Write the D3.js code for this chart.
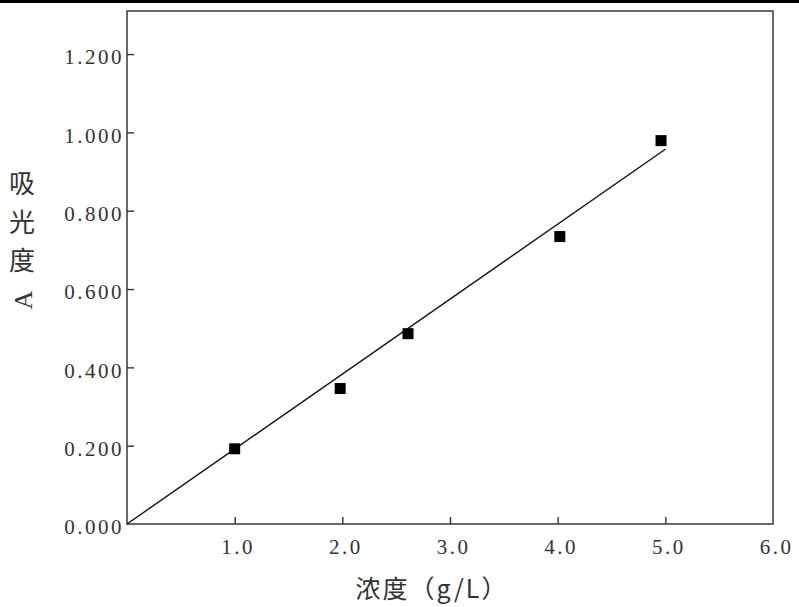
<!DOCTYPE html>
<meta charset="utf-8">
<script src="https://d3js.org/d3.v7.min.js"></script>
<style>
  body { margin: 0; background: #fff; }
  .tick text { font-family: "Liberation Serif", "DejaVu Serif", serif; font-size: 21px; fill: #333; letter-spacing: 2.5px; }
</style>
<svg id="chart" width="799" height="607"></svg>
<script>
// measured points
var conc = [1.0, 1.98, 2.61, 4.02, 4.96];
var absorb = [0.192, 0.346, 0.486, 0.734, 0.979];
// fitted line ends
var fitX = [0, 5.0];
var fitY = [0, 0.957];
var xTicks = [1, 2, 3, 4, 5, 6];
var yTicks = [0, 0.2, 0.4, 0.6, 0.8, 1.0, 1.2];

var svg = d3.select("#chart");
var plotL = 127, plotR = 773, plotT = 11, plotB = 524;

// black strip at top of the scan
svg.append("rect").attr("x", 0).attr("y", 0).attr("width", 799).attr("height", 3).attr("fill", "#000");

var x = d3.scaleLinear().domain([0, 6]).range([plotL, plotR]);
var y = d3.scaleLinear().domain([0, 1.31]).range([plotB, plotT]);

// frame
svg.append("rect")
  .attr("x", plotL).attr("y", plotT)
  .attr("width", plotR - plotL).attr("height", plotB - plotT)
  .attr("fill", "none").attr("stroke", "#444").attr("stroke-width", 1.6);

var xAxis = svg.append("g")
  .attr("transform", "translate(0," + plotB + ")")
  .call(d3.axisBottom(x).tickValues(xTicks).tickSizeInner(-7).tickSizeOuter(0).tickPadding(15)
    .tickFormat(d3.format(".1f")));
xAxis.select(".domain").remove();
xAxis.selectAll("line").attr("stroke", "#333").attr("stroke-width", 1.4);
xAxis.selectAll(".tick").filter(function(d) { return d === 6; }).select("line").remove();
xAxis.selectAll("text").attr("dx", "3px");

var yAxis = svg.append("g")
  .attr("transform", "translate(" + plotL + ",0)")
  .call(d3.axisLeft(y).tickValues(yTicks).tickSizeInner(-7).tickSizeOuter(0).tickPadding(3)
    .tickFormat(d3.format(".3f")));
yAxis.select(".domain").remove();
yAxis.selectAll("line").attr("stroke", "#333").attr("stroke-width", 1.4);
yAxis.selectAll(".tick").filter(function(d) { return d === 0; }).select("line").remove();
yAxis.selectAll("text").attr("dy", "0.46em");

// fit line
svg.append("path")
  .datum(d3.zip(fitX, fitY))
  .attr("d", d3.line().x(function(d) { return x(d[0]); }).y(function(d) { return y(d[1]); }))
  .attr("fill", "none").attr("stroke", "#111").attr("stroke-width", 1.4);

// points
var s = 11;
svg.append("g").selectAll("rect")
  .data(d3.zip(conc, absorb))
  .enter().append("rect")
  .attr("x", function(d) { return x(d[0]) - s / 2; })
  .attr("y", function(d) { return y(d[1]) - s / 2; })
  .attr("width", s).attr("height", s)
  .attr("fill", "#000");

// y title
var cjk = '"Noto Sans CJK SC", sans-serif';
["吸", "光", "度"].forEach(function(c, i) {
  svg.append("text").attr("x", 22).attr("y", 193 + i * 38.5)
    .attr("text-anchor", "middle")
    .style("font-family", cjk).style("font-size", "26px").style("fill", "#333")
    .text(c);
});
svg.append("text")
  .attr("transform", "translate(32,300) rotate(-90)")
  .attr("text-anchor", "middle")
  .style("font-family", '"Liberation Serif", serif').style("font-size", "26px").style("fill", "#333")
  .text("A");

// x title
svg.append("text")
  .attr("x", 432).attr("y", 598)
  .attr("text-anchor", "middle")
  .style("font-family", cjk).style("font-size", "25px").style("fill", "#333")
  .style("letter-spacing", "2px")
  .text("浓度（g/L）");
</script>
